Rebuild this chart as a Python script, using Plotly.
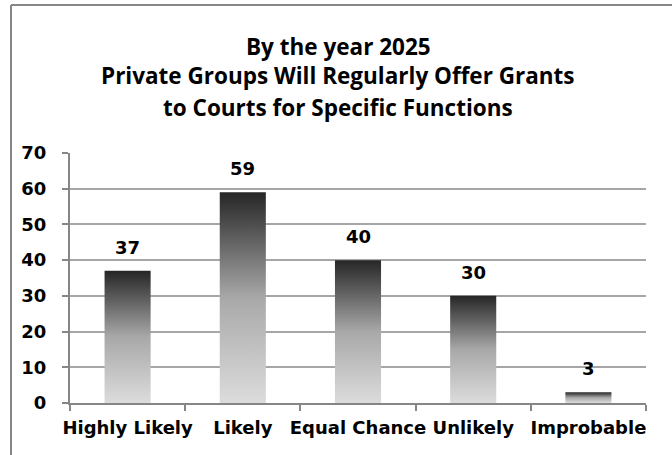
import plotly.graph_objects as go

# Survey responses
categories = ["Highly Likely", "Likely", "Equal Chance", "Unlikely", "Improbable"]
values = [37, 59, 40, 30, 3]
y_ticks = [0, 10, 20, 30, 40, 50, 60, 70]
title_lines = [
    "By the year 2025",
    "Private Groups Will Regularly Offer Grants",
    "to Courts for Specific Functions",
]

BAR_WIDTH = 0.4
GRID = "#a6a6a6"
AXIS = "#868686"
LABEL_FONT = dict(family="DejaVu Sans", size=18, color="#000000", weight="bold")
TITLE_FONT = dict(family="Open Sans", size=22.5, color="#000000", weight="bold")

W, H = 672, 455
L, R, T, B = 70, 26, 153, 52

fig = go.Figure()

# Gradient-filled bars drawn as closed polygons on an overlaid numeric axis
for i, v in enumerate(values):
    x0, x1 = i - BAR_WIDTH / 2, i + BAR_WIDTH / 2
    fig.add_trace(go.Scatter(
        x=[x0, x0, x1, x1, x0], y=[0, v, v, 0, 0],
        xaxis="x2", yaxis="y",
        mode="lines", line=dict(width=0),
        fill="toself",
        fillgradient=dict(
            type="vertical",
            colorscale=[[0, "#dcdcdc"], [0.5, "#a8a8a8"], [1, "#262626"]],
        ),
        hoverinfo="skip", showlegend=False,
    ))

# Invisible points put the categories on the category axis
fig.add_trace(go.Scatter(
    x=categories, y=values, mode="markers", marker=dict(opacity=0),
    hoverinfo="skip", showlegend=False,
))

# Value labels above the bars
for c, v in zip(categories, values):
    fig.add_annotation(
        x=c, y=v, xref="x", yref="y", text=str(v), showarrow=False,
        xanchor="center", yanchor="bottom", yshift=11, font=LABEL_FONT,
    )

fig.update_layout(
    width=W, height=H,
    margin=dict(l=L, r=R, t=T, b=B),
    paper_bgcolor="white", plot_bgcolor="white",
    showlegend=False,
    xaxis=dict(
        type="category", categoryorder="array", categoryarray=categories,
        range=[-0.5, len(categories) - 0.5], automargin=False,
        tickson="boundaries", ticks="outside", ticklen=6, tickwidth=1.5,
        tickcolor=AXIS, showline=True, linecolor=AXIS, linewidth=2,
        showgrid=False, tickfont=LABEL_FONT, tickangle=0, ticklabelstandoff=7,
        fixedrange=True,
    ),
    xaxis2=dict(
        overlaying="x", range=[-0.5, len(categories) - 0.5],
        visible=False, fixedrange=True,
    ),
    yaxis=dict(
        range=[0, 70], tickvals=y_ticks, ticks="outside", ticklen=6,
        tickwidth=1.5, tickcolor=AXIS, showline=True, linecolor=AXIS,
        linewidth=2, showgrid=True, gridcolor=GRID, gridwidth=1.5,
        zeroline=False, tickfont=LABEL_FONT, ticklabelstandoff=12,
        automargin=False, fixedrange=True,
    ),
)

# Chart frame (top and left edges)
px_x = lambda p: (p - L) / (W - L - R)
px_y = lambda p: (H - B - p) / (H - T - B)
fig.add_shape(type="line", xref="paper", yref="paper",
              x0=px_x(11), x1=px_x(W + 10), y0=px_y(5), y1=px_y(5),
              line=dict(color=AXIS, width=2))
fig.add_shape(type="line", xref="paper", yref="paper",
              x0=px_x(11), x1=px_x(11), y0=px_y(5), y1=px_y(H + 10),
              line=dict(color=AXIS, width=2))

# Three-line title
for text, yc in zip(title_lines, [46, 76, 107]):
    fig.add_annotation(
        text=text, xref="paper", yref="paper",
        x=px_x(338), y=px_y(yc), xanchor="center", yanchor="middle",
        showarrow=False, font=TITLE_FONT,
    )

fig.write_html("out.html")
